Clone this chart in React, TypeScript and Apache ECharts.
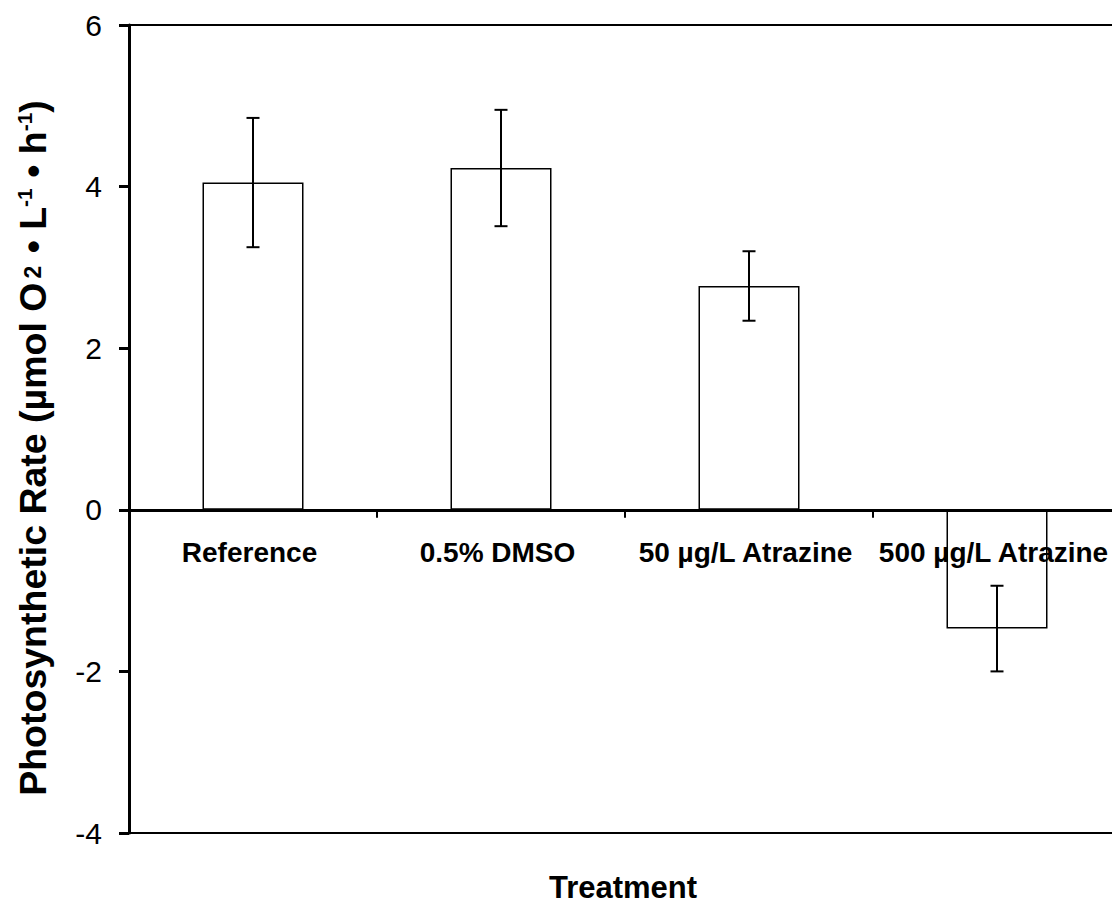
import React, { useEffect, useRef } from "react";
import * as echarts from "echarts";

// Treatments and measured photosynthetic rates (mean ± error)
const categories = ["Reference", "0.5% DMSO", "50 µg/L Atrazine", "500 µg/L Atrazine"];
const meanRates = [4.05, 4.23, 2.77, -1.47];
const errorRates = [0.8, 0.72, 0.43, 0.53];
const yTicks = { min: -4, max: 6, interval: 2 };

const FONT = '"Liberation Sans", Arial, Helvetica, sans-serif';

const CHART_W = 1130;
const CHART_H = 903;
const GRID = { left: 129, right: 9, top: 25, bottom: 70 };

export default function App() {
  const ref = useRef<HTMLDivElement>(null);

  useEffect(() => {
    if (!ref.current) return;
    const chart = echarts.init(ref.current, undefined, { renderer: "svg" });

    const errorData = meanRates.map((m, i) => [i, m - errorRates[i], m + errorRates[i]]);

    // Lift the category axis from the grid's bottom edge up to the zero line
    const gridHeight = CHART_H - GRID.top - GRID.bottom;
    const zeroOffset = -((0 - yTicks.min) / (yTicks.max - yTicks.min)) * gridHeight;

    chart.setOption({
      animation: false,
      backgroundColor: "#ffffff",
      grid: {
        ...GRID,
        show: true,
        borderColor: "#000",
        borderWidth: 2,
        backgroundColor: "transparent",
      },
      xAxis: {
        type: "category",
        data: categories,
        position: "bottom",
        offset: zeroOffset,
        axisLine: { onZero: false, lineStyle: { color: "#000", width: 3 } },
        axisTick: { show: true, length: 8, lineStyle: { color: "#000", width: 2 } },
        axisLabel: {
          interval: 0,
          margin: 29,
          padding: [0, 7, 0, 0],
          color: "#000",
          fontFamily: FONT,
          fontWeight: "bold",
          fontSize: 28,
        },
        splitLine: { show: false },
        z: 5,
      },
      yAxis: {
        type: "value",
        min: yTicks.min,
        max: yTicks.max,
        interval: yTicks.interval,
        axisLine: { show: true, lineStyle: { color: "#000", width: 3 } },
        axisTick: { show: true, length: 10, lineStyle: { color: "#000", width: 3 } },
        axisLabel: {
          margin: 27,
          color: "#000",
          fontFamily: FONT,
          fontSize: 30,
        },
        splitLine: { show: false },
      },
      graphic: [
        {
          type: "text",
          x: 33,
          y: 448,
          rotation: Math.PI / 2,
          style: {
            text: "{b|Photosynthetic Rate (µmol O}{sub|2}{b| • L}{sup|-1}{b| • h}{sup|-1}{b|)}",
            align: "center",
            verticalAlign: "middle",
            fill: "#000",
            rich: {
              b: { fontFamily: FONT, fontWeight: "bold", fontSize: 37.5, fill: "#000" },
              sub: { fontFamily: FONT, fontWeight: "bold", fontSize: 23, fill: "#000", padding: [0, 2, 0, 4] },
              sup: { fontFamily: FONT, fontWeight: "bold", fontSize: 21, fill: "#000", padding: [0, 0, 17, 0] },
            },
          },
        },
        {
          type: "text",
          x: 623,
          y: 887,
          style: {
            text: "Treatment",
            align: "center",
            verticalAlign: "middle",
            fill: "#000",
            fontFamily: FONT,
            fontWeight: "bold",
            fontSize: 31,
          },
        },
      ],
      series: [
        {
          type: "bar",
          data: meanRates,
          barWidth: 101,
          itemStyle: { color: "rgba(255,255,255,0)", borderColor: "#000", borderWidth: 1.5 },
          z: 6,
        },
        {
          type: "custom",
          data: errorData,
          z: 7,
          renderItem: (params: any, api: any) => {
            const x = api.value(0);
            const lo = api.coord([x, api.value(1)]);
            const hi = api.coord([x, api.value(2)]);
            const cap = 6.5;
            const style = { stroke: "#000", lineWidth: 2 };
            return {
              type: "group",
              children: [
                { type: "line", shape: { x1: hi[0], y1: hi[1], x2: lo[0], y2: lo[1] }, style },
                { type: "line", shape: { x1: hi[0] - cap, y1: hi[1], x2: hi[0] + cap, y2: hi[1] }, style },
                { type: "line", shape: { x1: lo[0] - cap, y1: lo[1], x2: lo[0] + cap, y2: lo[1] }, style },
              ],
            };
          },
        },
      ],
    });

    return () => chart.dispose();
  }, []);

  return (
    <div style={{ position: "fixed", left: 0, top: 0, width: 1112, height: 903, overflow: "hidden", background: "#fff" }}>
      <div ref={ref} style={{ width: CHART_W, height: CHART_H }} />
    </div>
  );
}
